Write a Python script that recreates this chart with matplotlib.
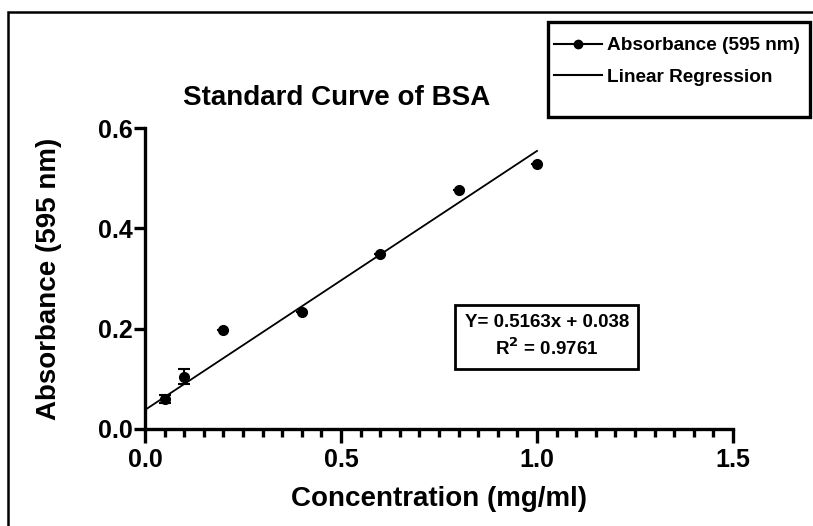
import numpy as np
import matplotlib
matplotlib.use("Agg")
import matplotlib.pyplot as plt
from matplotlib.lines import Line2D
from matplotlib.patches import Rectangle
from matplotlib.ticker import MultipleLocator, FormatStrFormatter

# data
concentration = [0.05, 0.1, 0.2, 0.4, 0.6, 0.8, 1.0]
absorbance = [0.060, 0.104, 0.198, 0.234, 0.349, 0.476, 0.528]
abs_err = [0.008, 0.015, 0.0, 0.0, 0.0, 0.0, 0.0]
slope = 0.5163
intercept = 0.038
r_squared = 0.9761
fit_range = [0.0, 1.0]

plt.rcParams['font.family'] = ['Liberation Sans', 'DejaVu Sans']
plt.rcParams['font.weight'] = 'bold'

W, H = 813, 526
fig = plt.figure(figsize=(W / 100, H / 100), dpi=100)
ax = fig.add_axes([145 / W, 1 - 429 / H, (733 - 145) / W, (429 - 128) / H])

ax.errorbar(concentration, absorbance, yerr=abs_err, fmt='o', color='black',
            markersize=7, capsize=4, elinewidth=1.5, capthick=1.5, clip_on=False, zorder=3)
fx = np.array(fit_range)
ax.plot(fx, slope * fx + intercept, color='black', lw=1.3)

ax.set_xlim(0, 1.5)
ax.set_ylim(0, 0.6)
ax.xaxis.set_major_locator(MultipleLocator(0.5))
ax.xaxis.set_minor_locator(MultipleLocator(0.05))
ax.yaxis.set_major_locator(MultipleLocator(0.2))
ax.xaxis.set_major_formatter(FormatStrFormatter('%.1f'))
ax.yaxis.set_major_formatter(FormatStrFormatter('%.1f'))
ax.spines['top'].set_visible(False)
ax.spines['right'].set_visible(False)
for s in ['left', 'bottom']:
    ax.spines[s].set_linewidth(2.4)
ax.tick_params(axis='both', which='major', width=2.4, labelsize=18)
ax.tick_params(axis='x', which='major', length=10, pad=4)
ax.tick_params(axis='y', which='major', length=8, pad=1)
ax.tick_params(axis='x', which='minor', width=2.4, length=6)

ax.set_xlabel('Concentration (mg/ml)', fontsize=20, fontweight='bold', labelpad=10)
ax.set_ylabel('Absorbance (595 nm)', fontsize=20, fontweight='bold', labelpad=26)
fig.text(337 / W, 1 - 98 / H, 'Standard Curve of BSA', fontsize=20,
         fontweight='bold', ha='center', va='center')

ax.text(1.025, 0.184, f'Y= {slope}x + {intercept}\nR$^\\mathbf{{2}}$ = {r_squared}',
        ha='center', va='center', fontsize=13.5, fontweight='bold', linespacing=1.4,
        bbox=dict(boxstyle='square,pad=0.5', facecolor='white', edgecolor='black', linewidth=2))

handles = [Line2D([], [], color='black', marker='o', markersize=6, lw=1.5),
           Line2D([], [], color='black', lw=1.5)]
leg = fig.legend(handles, ['Absorbance (595 nm)', 'Linear Regression'],
                 loc='upper left', bbox_to_anchor=(554 / W, 1 - 37 / H),
                 fontsize=13.7, frameon=False, handlelength=2.5,
                 borderpad=0, labelspacing=0.75, handletextpad=0.3, borderaxespad=0)
for t in leg.get_texts():
    t.set_fontweight('bold')

# legend frame (taller than the entries, as in the reference)
fig.patches.append(Rectangle((548 / W, 1 - 117 / H), (810 - 548) / W, (117 - 22) / H,
                             transform=fig.transFigure, fill=False,
                             edgecolor='black', linewidth=2.4))

# outer frame, only top and left visible in the crop
fig.patches.append(Rectangle((8 / W, -0.05), 1.2, 1 - 12 / H + 0.05,
                             transform=fig.transFigure, fill=False,
                             edgecolor='black', linewidth=1.8))

fig.savefig('out.png', dpi=100)
